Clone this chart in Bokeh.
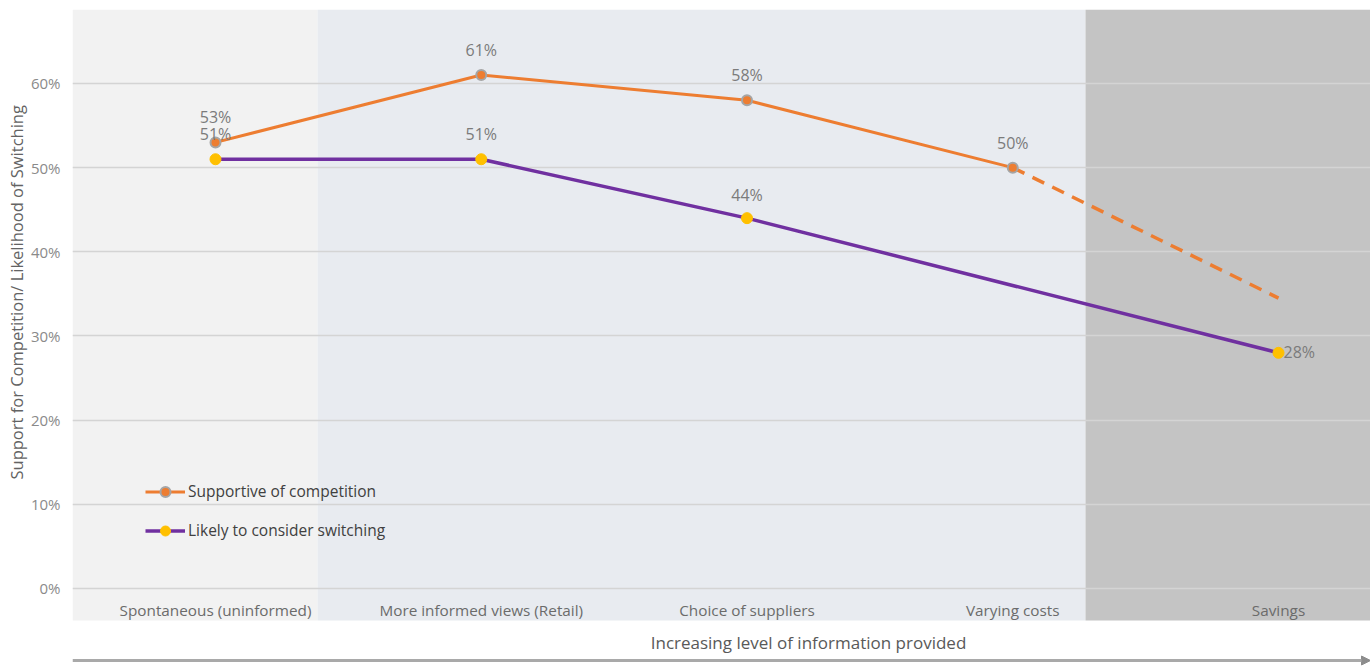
from bokeh.core.properties import value
from bokeh.embed import file_html
from bokeh.models import (Arrow, ColumnDataSource, FixedTicker, Label, Legend,
                          LegendItem, NormalHead, PrintfTickFormatter, Range1d,
                          Title)
from bokeh.plotting import figure
from bokeh.resources import INLINE

# ---- data -------------------------------------------------------------
categories = [
    "Spontaneous (uninformed)",
    "More informed views (Retail)",
    "Choice of suppliers",
    "Varying costs",
    "Savings",
]
supportive = [53, 61, 58, 50]          # % supportive of competition (first four stages)
supportive_projection = 34.5           # dashed projection at the last stage
switching_stages = [0, 1, 2, 4]        # stages with a switching value
switching = [51, 51, 44, 28]           # % likely to consider switching
y_ticks = [0, 10, 20, 30, 40, 50, 60]

# ---- styling / layout ---------------------------------------------------
ORANGE = "#ed7d31"
PURPLE = "#7030a0"
GOLD = "#ffc000"
MARKER_RING = "#a5a5a5"
LABEL_GREY = "#7b7b7b"
FONT = "Open Sans"

W, H = 1370, 667
LEFT, TOP = 72, 9
X_START, X_END = -0.5381, 4.3462
Y_START, Y_END = -9.386, 68.79
PANEL_BOTTOM = -3.80
PANEL_EDGES = [X_START, 0.3838, 3.2738, X_END]
PANEL_COLORS = ["#f2f2f2", "#e8ebf0", "#c4c4c4"]
CAT_LABEL_Y = -2.6

p = figure(width=W, height=H, output_backend="svg", toolbar_location=None,
           x_range=Range1d(X_START, X_END), y_range=Range1d(Y_START, Y_END),
           x_axis_location=None, min_border_left=LEFT, min_border_top=TOP,
           min_border_right=0, min_border_bottom=0)
p.outline_line_color = None
p.background_fill_color = "white"
p.border_fill_color = "white"

# background bands for the information stages
bands = p.quad(left=PANEL_EDGES[:-1], right=PANEL_EDGES[1:],
               bottom=PANEL_BOTTOM, top=Y_END,
               fill_color=PANEL_COLORS, line_color=None)
bands.level = "image"

# grid and y axis
p.xgrid.visible = False
p.ygrid.grid_line_color = "#d4d4d4"
p.ygrid.grid_line_width = 1.3
p.yaxis.ticker = FixedTicker(ticks=y_ticks)
p.yaxis.formatter = PrintfTickFormatter(format="%d%%")
p.yaxis.axis_line_color = None
p.yaxis.major_tick_line_color = None
p.yaxis.minor_tick_line_color = None
p.yaxis.major_label_standoff = 6
p.yaxis.major_label_text_font = FONT
p.yaxis.major_label_text_font_size = "15px"
p.yaxis.major_label_text_color = "#8a8a8a"

# y axis title, set in the left margin (starts 190px above the bottom edge)
p.add_layout(Title(text="Support for Competition/ Likelihood of Switching",
                   align="left", offset=188, standoff=0,
                   text_font=FONT, text_font_size="16.5px",
                   text_font_style="normal", text_color="#636363"), "left")

# supportive of competition
sup_x = list(range(len(supportive)))
sup_line = p.line(sup_x, supportive, line_color=ORANGE, line_width=3)
p.line([sup_x[-1], len(categories) - 1], [supportive[-1], supportive_projection],
       line_color=ORANGE, line_width=3.5, line_dash="13 9")
sup_pts = p.scatter(sup_x, supportive, size=10, fill_color=ORANGE,
                    line_color=MARKER_RING, line_width=2)

# likely to consider switching
sw_line = p.line(switching_stages, switching, line_color=PURPLE, line_width=3.5)
sw_pts = p.scatter(switching_stages, switching, size=11, fill_color=GOLD,
                   line_color=GOLD, line_width=1)

# value labels
sup_src = ColumnDataSource(dict(x=sup_x, y=supportive,
                                t=[f"{v}%" for v in supportive]))
p.text("x", "y", text="t", source=sup_src, text_align="center",
       text_baseline="middle", y_offset=-25, text_font=value(FONT),
       text_font_size="16px", text_color=LABEL_GREY)

sw_src = ColumnDataSource(dict(
    x=switching_stages, y=switching, t=[f"{v}%" for v in switching],
    xo=[0, 0, 0, 5], yo=[-25, -25, -23, -1],
    al=["center", "center", "center", "left"]))
p.text("x", "y", text="t", source=sw_src, text_align="al",
       text_baseline="middle", x_offset="xo", y_offset="yo",
       text_font=value(FONT), text_font_size="16px", text_color=LABEL_GREY)

# stage names
cat_src = ColumnDataSource(dict(x=list(range(len(categories))),
                                y=[CAT_LABEL_Y] * len(categories),
                                t=categories))
p.text("x", "y", text="t", source=cat_src, text_align="center",
       text_baseline="middle", text_font=value(FONT),
       text_font_size="15.3px", text_color="#6b6b6b")

# x direction title and arrow
p.add_layout(Label(x=808 - LEFT, y=H - 642, x_units="screen", y_units="screen",
                   text="Increasing level of information provided",
                   text_align="center", text_baseline="middle",
                   text_font=FONT, text_font_size="17px", text_color="#595959"))
p.add_layout(Arrow(x_start=0, y_start=H - 660, x_end=W - LEFT, y_end=H - 660,
                   start_units="screen", end_units="screen",
                   line_color="#a9a9a9", line_width=3,
                   end=NormalHead(size=9, fill_color="#8c8c8c",
                                  line_color="#8c8c8c")))

# legend
legend = Legend(items=[
    LegendItem(label="Supportive of competition", renderers=[sup_line, sup_pts]),
    LegendItem(label="Likely to consider switching", renderers=[sw_line, sw_pts]),
], location=(145 - LEFT, H - 542.5), orientation="vertical",
    background_fill_alpha=0, border_line_color=None, padding=0, margin=0,
    spacing=14, glyph_width=40, glyph_height=25, label_height=20,
    label_standoff=3, label_text_font=FONT, label_text_font_size="15.5px",
    label_text_color="#404040")
p.add_layout(legend)

open("out.html", "w").write(file_html(p, INLINE))
